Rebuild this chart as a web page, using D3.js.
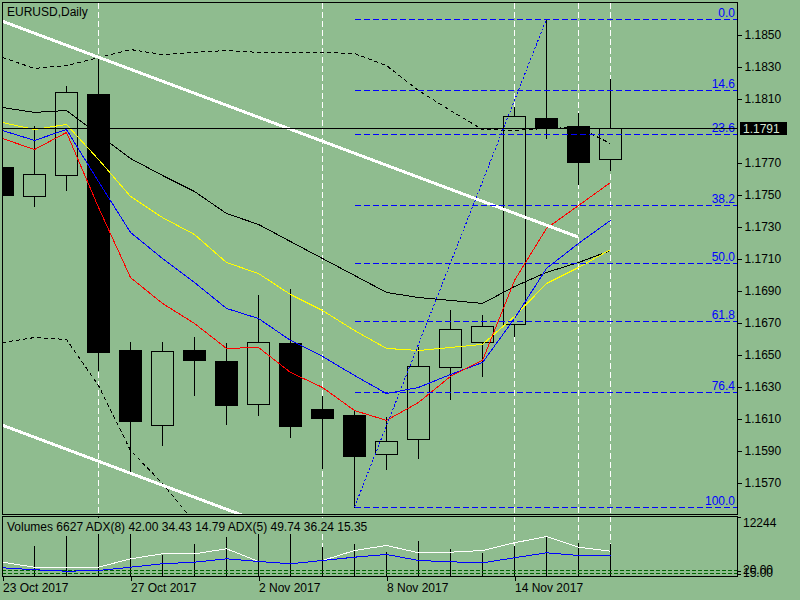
<!DOCTYPE html>
<html>
<head>
<meta charset="utf-8">
<script src="https://cdn.jsdelivr.net/npm/d3@7"></script>
<style>
    body { margin: 0; background: #8fbc8f; }
    svg { display: block; font-family: "Liberation Sans", Arial, sans-serif; font-size: 12px; }
</style>
</head>
<body>
<div id="chartDiv"></div>
<script>
// daily bars, EURUSD
var dates = ["23 Oct 2017", "24 Oct 2017", "25 Oct 2017", "26 Oct 2017", "27 Oct 2017",
             "30 Oct 2017", "31 Oct 2017", "1 Nov 2017", "2 Nov 2017", "3 Nov 2017",
             "6 Nov 2017", "7 Nov 2017", "8 Nov 2017", "9 Nov 2017", "10 Nov 2017",
             "13 Nov 2017", "14 Nov 2017", "15 Nov 2017", "16 Nov 2017", "17 Nov 2017"];
var open  = [1.17669, 1.17488, 1.17617, 1.18125, 1.16525, 1.16054, 1.16525, 1.16456, 1.16189, 1.16569,
             1.16156, 1.16119, 1.15873, 1.15967, 1.16417, 1.16573, 1.16688, 1.17975, 1.17925, 1.17717];
var high  = [1.17700, 1.17925, 1.18175, 1.18358, 1.16575, 1.16575, 1.16606, 1.16569, 1.16869, 1.16906,
             1.16237, 1.16144, 1.16104, 1.16542, 1.16773, 1.16744, 1.18044, 1.18594, 1.18006, 1.18219];
var low   = [1.17480, 1.17425, 1.17523, 1.16400, 1.15750, 1.15933, 1.16244, 1.16064, 1.16121, 1.15983,
             1.15789, 1.15544, 1.15781, 1.15852, 1.16221, 1.16364, 1.16614, 1.17848, 1.17564, 1.17650];
var close = [1.17494, 1.17625, 1.18136, 1.16514, 1.16083, 1.16517, 1.16464, 1.16183, 1.16573, 1.16052,
             1.16102, 1.15864, 1.15954, 1.16423, 1.16654, 1.16673, 1.17986, 1.17917, 1.17702, 1.17910];

// moving averages
var maRed    = [1.17850, 1.17781, 1.17888, 1.17419, 1.16981, 1.16819, 1.16694, 1.16538, 1.16544, 1.16388,
                1.16294, 1.16150, 1.16088, 1.16200, 1.16363, 1.16463, 1.16963, 1.17288, 1.17431, 1.17575];
var maBlue   = [1.17900, 1.17838, 1.17906, 1.17581, 1.17263, 1.17100, 1.16950, 1.16788, 1.16725, 1.16588,
                1.16488, 1.16369, 1.16256, 1.16294, 1.16375, 1.16450, 1.16725, 1.17038, 1.17194, 1.17338];
var maYellow = [1.17950, 1.17906, 1.17938, 1.17719, 1.17488, 1.17356, 1.17250, 1.17075, 1.17006, 1.16875,
                1.16775, 1.16650, 1.16538, 1.16525, 1.16544, 1.16563, 1.16738, 1.16944, 1.17044, 1.17156];
var maBlack  = [1.18044, 1.18013, 1.18025, 1.17875, 1.17725, 1.17619, 1.17519, 1.17381, 1.17313, 1.17206,
                1.17100, 1.16994, 1.16888, 1.16856, 1.16838, 1.16819, 1.16925, 1.17013, 1.17075, 1.17150];
// envelope (dashed)
var envUpper = [1.18356, 1.18288, 1.18306, 1.18356, 1.18406, 1.18375, 1.18388, 1.18400, 1.18388, 1.18388,
                1.18388, 1.18381, 1.18306, 1.18150, 1.18025, 1.17906, 1.17900, 1.17913, 1.17919, 1.17819];
var envLower = [1.16575, 1.16606, 1.16594, 1.16306, 1.15900, 1.15694, 1.15450, null, null, null,
                null, null, null, null, null, null, null, null, null, null];

// volume sub window
var volumes  = [7000, 6225, 8300, 12244, 9400, 4360, 6570, 8030, 9100, 8800,
                5950, 6570, 5040, 7260, 5600, 4840, 6290, 8160, 6780, 6627];
var adxWhite = [33.8, 25.5, 25.5, 25.5, 39.5, 47.8, 47.8, 56.2, 35.0, 31.2,
                36.7, 53.3, 61.7, 49.5, 50.5, 53.3, 66.2, 76.7, 58.8, 52.2];
var adxBlue  = [24.5, 21.2, 18.8, 20.0, 25.5, 31.2, 33.8, 39.5, 35.0, 31.2,
                36.7, 42.2, 46.7, 36.7, 34.5, 32.8, 41.2, 49.5, 45.0, 45.0];
var adxLevels = [20, 15];
var volMax = 12244;

// objects
var bidPrice = 1.1791;
var fiboLevels = [0, 14.6, 23.6, 38.2, 50, 61.8, 76.4, 100];
var fiboFromBar = 11, fiboToBar = 17;
var trendUpper = [{bar: 0, price: 1.18581}, {bar: 18, price: 1.17231}];
var trendLower = [{bar: 0, price: 1.16056}, {bar: 8, price: 1.15456}];
var vLineBars = [3, 10, 16, 18, 19];

var priceTicks = [1.1850, 1.1830, 1.1810, 1.1790, 1.1770, 1.1750, 1.1730, 1.1710, 1.1690,
                  1.1670, 1.1650, 1.1630, 1.1610, 1.1590, 1.1570].filter(function(d) { return Math.abs(d - bidPrice) > 0.0005; });
var dateTicks = [0, 4, 8, 12, 16];

var bg = "#8fbc8f";
var plotL = 2, plotR = 737, mainT = 2, mainB = 514, subT = 516, subB = 576;

var x = d3.scaleLinear().domain([0, 19]).range([2, 610]);
var y = d3.scaleLinear().domain([1.1570, 1.1850]).range([482, 34]);
var yVol = d3.scaleLinear().domain([0, volMax]).range([subB, subT + 1]);
var yAdx = d3.scaleLinear().domain([0, 100]).range([582, 522]);

function px(v) { return Math.round(v) + 0.5; }

var svg = d3.select("#chartDiv").append("svg").attr("width", 800).attr("height", 600)
    .style("background", bg).attr("shape-rendering", "crispEdges");

var defs = svg.append("defs");
defs.append("clipPath").attr("id", "clipMain").append("rect")
    .attr("x", plotL + 1).attr("y", mainT + 1).attr("width", plotR - plotL - 1).attr("height", mainB - mainT - 1);
defs.append("clipPath").attr("id", "clipSub").append("rect")
    .attr("x", plotL + 1).attr("y", subT + 1).attr("width", plotR - plotL - 1).attr("height", subB - subT - 1);

// vertical lines go behind everything
svg.selectAll(".vline").data(vLineBars).enter().append("line")
    .attr("x1", function(d) { return px(x(d)); })
    .attr("x2", function(d) { return px(x(d)); })
    .attr("y1", mainT + 1).attr("y2", subB)
    .attr("stroke", "white")
    .attr("stroke-dasharray", "6,3");

var main = svg.append("g").attr("clip-path", "url(#clipMain)");
var sub = svg.append("g").attr("clip-path", "url(#clipSub)");

var bars = d3.range(dates.length).map(function(i) {
    return {i: i, o: open[i], h: high[i], l: low[i], c: close[i]};
});

//candles
main.selectAll(".wick").data(bars).enter().append("line")
    .attr("x1", function(d) { return px(x(d.i)); })
    .attr("x2", function(d) { return px(x(d.i)); })
    .attr("y1", function(d) { return Math.round(y(d.h)); })
    .attr("y2", function(d) { return Math.round(y(d.l)) + 1; })
    .attr("stroke", "black");

main.selectAll(".body").data(bars).enter().append("rect")
    .attr("x", function(d) { return d.c >= d.o ? Math.round(x(d.i)) - 11 + 0.5 : Math.round(x(d.i)) - 11; })
    .attr("y", function(d) { return d.c >= d.o ? px(y(d.c)) : Math.round(y(d.o)); })
    .attr("width", function(d) { return d.c >= d.o ? 22 : 23; })
    .attr("height", function(d) {
        return d.c >= d.o ? Math.max(1, Math.round(y(d.o)) - Math.round(y(d.c)))
                          : Math.max(1, Math.round(y(d.c)) - Math.round(y(d.o)) + 1);
    })
    .attr("fill", function(d) { return d.c >= d.o ? bg : "black"; })
    .attr("stroke", function(d) { return d.c >= d.o ? "black" : "none"; });

// indicator lines
var line = d3.line()
    .defined(function(d) { return d != null; })
    .x(function(d, i) { return x(i) + 0.5; })
    .y(function(d) { return y(d) + 0.5; });

[[envUpper, "black", "4,3"], [envLower, "black", "4,3"],
 [maBlack, "black", null], [maYellow, "#ffff00", null], [maBlue, "#0000ff", null], [maRed, "#ff0000", null]]
    .forEach(function(s) {
        main.append("path").datum(s[0])
            .attr("d", line)
            .attr("fill", "none")
            .attr("stroke", s[1])
            .attr("stroke-width", 1)
            .attr("stroke-dasharray", s[2]);
    });

// trend channel
var tline = d3.line()
    .x(function(d) { return x(d.bar); })
    .y(function(d) { return y(d.price); });
[trendUpper, trendLower].forEach(function(t) {
    main.append("path").datum(t).attr("d", tline)
        .attr("stroke", "white").attr("stroke-width", 3).attr("fill", "none");
});

// fibonacci
var fHigh = high[fiboToBar], fLow = low[fiboFromBar];
var fibo = main.append("g");
fibo.append("line")
    .attr("x1", x(fiboFromBar) + 0.5).attr("y1", y(fLow))
    .attr("x2", x(fiboToBar) + 0.5).attr("y2", y(fHigh))
    .attr("stroke", "#0000ff").attr("stroke-dasharray", "2,2");
fibo.selectAll(".flevel").data(fiboLevels).enter().append("line")
    .attr("x1", px(x(fiboFromBar)))
    .attr("x2", plotR)
    .attr("y1", function(d) { return px(y(fHigh - (fHigh - fLow) * d / 100)); })
    .attr("y2", function(d) { return px(y(fHigh - (fHigh - fLow) * d / 100)); })
    .attr("stroke", "#0000ff")
    .attr("stroke-dasharray", "6,3");
fibo.selectAll(".ftext").data(fiboLevels).enter().append("text")
    .attr("x", 735)
    .attr("y", function(d) { return Math.round(y(fHigh - (fHigh - fLow) * d / 100)) - 2; })
    .attr("text-anchor", "end")
    .attr("fill", "#0000ff")
    .text(function(d) { return d.toFixed(1); });

// bid line
main.append("line")
    .attr("x1", plotL).attr("x2", plotR)
    .attr("y1", px(y(bidPrice))).attr("y2", px(y(bidPrice)))
    .attr("stroke", "black");

// volumes
sub.selectAll(".vol").data(volumes).enter().append("line")
    .attr("x1", function(d, i) { return px(x(i)); })
    .attr("x2", function(d, i) { return px(x(i)); })
    .attr("y1", subB)
    .attr("y2", function(d) { return Math.round(yVol(d)); })
    .attr("stroke", "black");

sub.selectAll(".lvl").data(adxLevels).enter().append("line")
    .attr("x1", plotL).attr("x2", plotR)
    .attr("y1", function(d) { return px(yAdx(d)); })
    .attr("y2", function(d) { return px(yAdx(d)); })
    .attr("stroke", "#006400")
    .attr("stroke-dasharray", "4,2");

var adxLine = d3.line()
    .x(function(d, i) { return x(i) + 0.5; })
    .y(function(d) { return yAdx(d) + 0.5; });
sub.append("path").datum(adxWhite).attr("d", adxLine).attr("fill", "none").attr("stroke", "white");
sub.append("path").datum(adxBlue).attr("d", adxLine).attr("fill", "none").attr("stroke", "#0000ff");

// sub window label with opaque background
var subLabelG = svg.append("g");
var subLabelBg = subLabelG.append("rect").attr("fill", bg);
var subLabel = subLabelG.append("text")
    .attr("x", 7).attr("y", 531)
    .text("Volumes " + volumes[volumes.length - 1] + " ADX(8) 42.00 34.43 14.79 ADX(5) 49.74 36.24 15.35");
var bb = subLabel.node().getBBox();
subLabelBg.attr("x", bb.x - 1).attr("y", subT + 2).attr("width", bb.width + 2).attr("height", 534 - subT - 2);

// frames
svg.append("rect").attr("x", plotL + 0.5).attr("y", mainT + 0.5)
    .attr("width", plotR - plotL).attr("height", mainB - mainT)
    .attr("fill", "none").attr("stroke", "black");
svg.append("rect").attr("x", plotL + 0.5).attr("y", subT + 0.5)
    .attr("width", plotR - plotL).attr("height", subB - subT)
    .attr("fill", "none").attr("stroke", "black");

// price axis
var yAxis = d3.axisRight(y).tickValues(priceTicks).tickSize(4).tickFormat(d3.format(".4f"));
svg.append("g").attr("transform", "translate(" + (plotR + 0.5) + ",0.5)").call(yAxis)
    .call(function(g) { g.select(".domain").remove(); })
    .call(function(g) { g.selectAll("text").attr("font-size", 12).attr("font-family", "Liberation Sans").attr("fill", "black"); });

// bid label
svg.append("rect").attr("x", 740).attr("y", Math.round(y(bidPrice)) - 6).attr("width", 47).attr("height", 13).attr("fill", "black");
svg.append("text").attr("x", 743).attr("y", Math.round(y(bidPrice)) + 0.5).attr("dy", "0.35em")
    .attr("fill", "#d4e6d4").text(d3.format(".4f")(bidPrice));

// sub window scale
svg.append("line").attr("x1", plotR).attr("x2", plotR + 4)
    .attr("y1", px(yVol(volMax))).attr("y2", px(yVol(volMax))).attr("stroke", "black");
svg.append("text").attr("x", 743).attr("y", yVol(volMax) + 6).attr("dy", "0.35em").text(volMax);
svg.selectAll(".lvlTick").data(adxLevels).enter().append("line")
    .attr("x1", plotR).attr("x2", plotR + 4)
    .attr("y1", function(d) { return px(yAdx(d)) + 1; })
    .attr("y2", function(d) { return px(yAdx(d)) + 1; })
    .attr("stroke", "black");
svg.selectAll(".lvlText").data(adxLevels).enter().append("text")
    .attr("x", 743)
    .attr("y", function(d) { return yAdx(d); })
    .attr("dy", "0.35em")
    .text(function(d) { return d.toFixed(2); });

// time axis
var xAxis = d3.axisBottom(x).tickValues(dateTicks).tickSize(4).tickFormat(function(i) { return dates[i]; });
svg.append("g").attr("transform", "translate(0.5," + (subB + 0.5) + ")").call(xAxis)
    .call(function(g) { g.select(".domain").remove(); })
    .call(function(g) {
        g.selectAll("text").attr("text-anchor", "start").attr("x", 0)
            .attr("font-size", 12).attr("font-family", "Liberation Sans").attr("fill", "black");
    });

// title
svg.append("text").attr("x", 7).attr("y", 16).text("EURUSD,Daily");
</script>
</body>
</html>
